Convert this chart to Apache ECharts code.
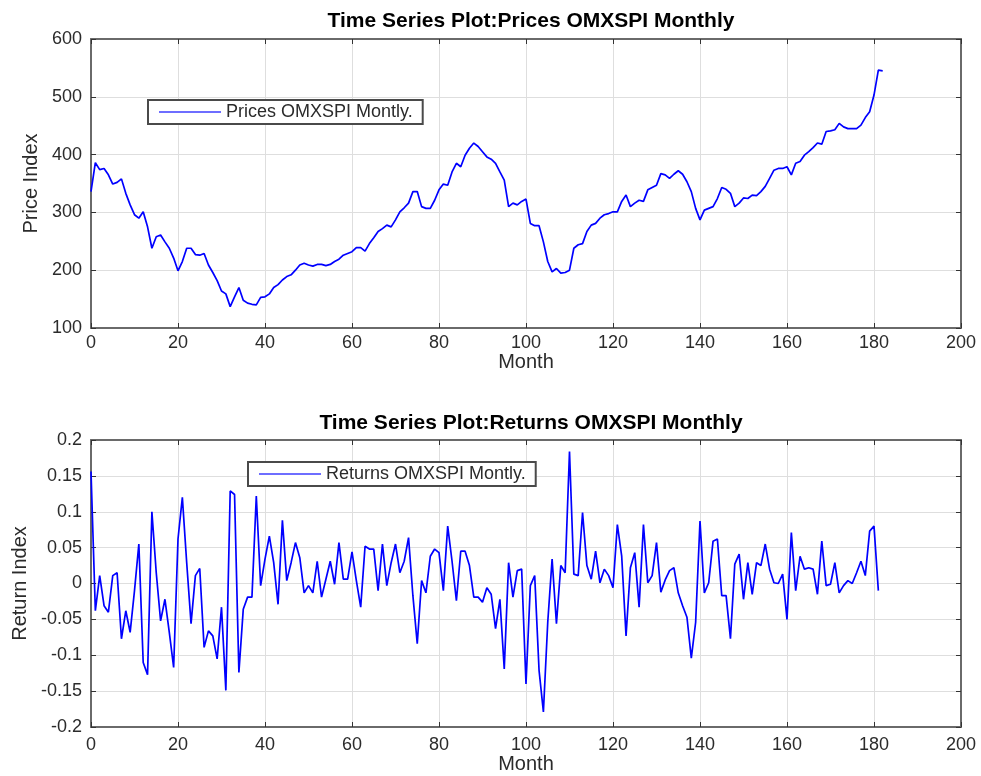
<!DOCTYPE html>
<html>
<head>
<meta charset="utf-8">
<script src="https://cdn.jsdelivr.net/npm/echarts@6/dist/echarts.min.js"></script>
<style>
html,body{margin:0;padding:0;background:#fff;}
#chart{width:981px;height:776px;}
</style>
</head>
<body>
<div id="chart"></div>
<script>
// ---- data ----
const titles = ['Time Series Plot:Prices OMXSPI Monthly', 'Time Series Plot:Returns OMXSPI Monthly'];
const seriesNames = ['Prices OMXSPI Montly.', 'Returns OMXSPI Montly.'];
const axisNames = { x: 'Month', yTop: 'Price Index', yBottom: 'Return Index' };

const prices = [
  336, 386, 374, 376, 365, 349, 352, 358, 333, 313,
  296, 290, 301, 275, 238, 258, 261, 249, 238, 221,
  199, 215, 238, 238, 227, 226, 229, 209, 196, 182,
  164, 159, 137, 154, 170, 148, 143, 141, 140, 153,
  154, 159, 170, 175, 183, 189, 192, 200, 209, 212,
  209, 207, 210, 210, 208, 210, 215, 219, 226, 229,
  232, 239, 239, 233, 246, 256, 267, 272, 278, 275,
  287, 301, 308, 316, 336, 336, 310, 307, 307, 321,
  339, 349, 347, 370, 385, 379, 399, 411, 420, 414,
  405, 396, 392, 385, 370, 356, 310, 316, 313, 319,
  323, 281, 277, 277, 249, 215, 197, 203, 195, 196,
  200, 238, 244, 246, 267, 278, 281, 290, 296, 298,
  301, 301, 319, 330, 310, 316, 321, 319, 339, 343,
  347, 367, 365, 359, 366, 372, 366, 353, 336, 307,
  287, 304, 307, 310, 324, 343, 340, 333, 310, 316,
  325, 324, 330, 329, 336, 345, 359, 373, 376, 376,
  379, 365, 385, 388, 399, 405, 412, 420, 418, 440,
  441, 443, 454, 448, 445, 445, 445, 451, 464, 474,
  503, 546, 545
];

const returns = [
  0.156, -0.038, 0.011, -0.031, -0.040, 0.011, 0.015, -0.077, -0.038, -0.068,
  -0.010, 0.055, -0.110, -0.127, 0.100, 0.015, -0.052, -0.022, -0.068, -0.117,
  0.062, 0.120, 0.029, -0.056, 0.011, 0.021, -0.089, -0.066, -0.073, -0.105,
  -0.033, -0.149, 0.129, 0.124, -0.124, -0.036, -0.019, -0.019, 0.122, -0.003,
  0.034, 0.066, 0.029, -0.029, 0.088, 0.004, 0.029, 0.057, 0.036, -0.013,
  -0.003, -0.013, 0.031, -0.019, 0.006, 0.031, -0.001, 0.057, 0.006, 0.006,
  0.044, 0.004, -0.033, 0.052, 0.048, 0.048, -0.010, 0.055, -0.003, 0.029,
  0.055, 0.015, 0.031, 0.064, -0.017, -0.084, 0.004, -0.013, 0.038, 0.048,
  0.043, -0.010, 0.080, 0.031, -0.024, 0.045, 0.045, 0.025, -0.019, -0.019,
  -0.026, -0.006, -0.015, -0.063, -0.022, -0.119, 0.029, -0.019, 0.018, 0.020,
  -0.140, -0.003, 0.011, -0.121, -0.179, -0.054, 0.034, -0.056, 0.025, 0.015,
  0.184, 0.013, 0.011, 0.099, 0.025, 0.006, 0.045, 0.001, 0.020, 0.011,
  -0.006, 0.082, 0.038, -0.073, 0.022, 0.043, -0.033, 0.082, 0.001, 0.011,
  0.057, -0.012, 0.005, 0.018, 0.022, -0.013, -0.031, -0.047, -0.104, -0.054,
  0.087, -0.013, 0.001, 0.059, 0.062, -0.017, -0.017, -0.077, 0.027, 0.041,
  -0.022, 0.029, -0.015, 0.029, 0.025, 0.055, 0.020, 0.001, 0.000, 0.013,
  -0.050, 0.071, -0.010, 0.038, 0.020, 0.022, 0.020, -0.015, 0.059, -0.003,
  -0.001, 0.029, -0.013, -0.003, 0.004, 0.000, 0.015, 0.031, 0.011, 0.073,
  0.080, -0.010
];

const xTicks = { min: 0, max: 200, interval: 20 };
const yTopTicks = { min: 100, max: 600, interval: 100 };
const yBottomTicks = { min: -0.2, max: 0.2, interval: 0.05 };

// ---- chart ----
const FONT = 'Liberation Sans';
const TXT = '#2b2b2b';
const FRAME = '#6a6a6a';
const GRIDC = '#dedede';
const BLUE = '#0000ff';

const chart = echarts.init(document.getElementById('chart'), null, { renderer: 'canvas' });

function xAxisPair(gridIndex, labelMargin, nameGap) {
  return [
    {
      gridIndex, type: 'value', position: 'bottom',
      min: xTicks.min, max: xTicks.max, interval: xTicks.interval,
      name: axisNames.x, nameLocation: 'middle', nameGap: nameGap,
      nameTextStyle: { fontFamily: FONT, fontSize: 20, color: TXT },
      axisLine: { show: true, onZero: false, lineStyle: { color: FRAME, width: 2 } },
      axisTick: { show: true, inside: true, length: 5, lineStyle: { color: '#333', width: 1 } },
      axisLabel: { fontFamily: FONT, fontSize: 18, color: TXT, margin: labelMargin },
      splitLine: { show: true, lineStyle: { color: GRIDC, width: 1 } }
    },
    {
      gridIndex, type: 'value', position: 'top',
      min: xTicks.min, max: xTicks.max, interval: xTicks.interval,
      axisLine: { show: true, onZero: false, lineStyle: { color: FRAME, width: 2 } },
      axisTick: { show: true, inside: true, length: 5, lineStyle: { color: '#333', width: 1 } },
      axisLabel: { show: false },
      splitLine: { show: false }
    }
  ];
}

function yAxisPair(gridIndex, ticks, name, gap) {
  return [
    {
      gridIndex, type: 'value', position: 'left',
      min: ticks.min, max: ticks.max, interval: ticks.interval,
      name, nameLocation: 'middle', nameGap: gap,
      nameTextStyle: { fontFamily: FONT, fontSize: 20, color: TXT },
      axisLine: { show: true, onZero: false, lineStyle: { color: FRAME, width: 2 } },
      axisTick: { show: true, inside: true, length: 5, lineStyle: { color: '#333', width: 1 } },
      axisLabel: { fontFamily: FONT, fontSize: 18, color: TXT, margin: 9 },
      splitLine: { show: true, lineStyle: { color: GRIDC, width: 1 } }
    },
    {
      gridIndex, type: 'value', position: 'right',
      min: ticks.min, max: ticks.max, interval: ticks.interval,
      axisLine: { show: true, onZero: false, lineStyle: { color: FRAME, width: 2 } },
      axisTick: { show: true, inside: true, length: 5, lineStyle: { color: '#333', width: 1 } },
      axisLabel: { show: false },
      splitLine: { show: false }
    }
  ];
}

const legendCommon = {
  orient: 'horizontal',
  icon: 'rect',
  itemWidth: 62,
  itemHeight: 2,
  itemGap: 6,
  borderColor: '#4a4a4a',
  borderWidth: 2,
  backgroundColor: '#fff',
  padding: [3, 10, 3, 11],
  textStyle: { fontFamily: FONT, fontSize: 18, color: TXT, padding: [0, 0, 0, 0] },
  selectedMode: false
};

const option = {
  backgroundColor: '#ffffff',
  animation: false,
  title: [
    { text: titles[0], left: 526, top: 6, textAlign: 'center',
      textStyle: { fontFamily: FONT, fontSize: 21, fontWeight: 'bold', color: '#000' } },
    { text: titles[1], left: 526, top: 408, textAlign: 'center',
      textStyle: { fontFamily: FONT, fontSize: 21, fontWeight: 'bold', color: '#000' } }
  ],
  legend: [
    Object.assign({}, legendCommon, {
      left: 148, top: 100,
      data: [{ name: seriesNames[0], itemStyle: { color: '#6e6eff' } }]
    }),
    Object.assign({}, legendCommon, {
      left: 248, top: 462,
      data: [{ name: seriesNames[1], itemStyle: { color: '#6e6eff' } }]
    })
  ],
  grid: [
    { left: 91, right: 20, top: 39, height: 289, show: false },
    { left: 91, right: 20, top: 440, height: 287, show: false }
  ],
  xAxis: [].concat(xAxisPair(0, 6, 24), xAxisPair(1, 9, 27)),
  yAxis: [].concat(
    yAxisPair(0, yTopTicks, axisNames.yTop, 48),
    yAxisPair(1, yBottomTicks, axisNames.yBottom, 60)
  ),
  series: [
    {
      name: seriesNames[0], type: 'line', xAxisIndex: 0, yAxisIndex: 0,
      data: prices.map((v, i) => [i, v]),
      showSymbol: false, symbol: 'none',
      lineStyle: { color: BLUE, width: 1.7 }, itemStyle: { color: BLUE }
    },
    {
      name: seriesNames[1], type: 'line', xAxisIndex: 2, yAxisIndex: 2,
      data: returns.map((v, i) => [i, v]),
      showSymbol: false, symbol: 'none',
      lineStyle: { color: BLUE, width: 1.7 }, itemStyle: { color: BLUE }
    }
  ]
};

chart.setOption(option);
</script>
</body>
</html>
